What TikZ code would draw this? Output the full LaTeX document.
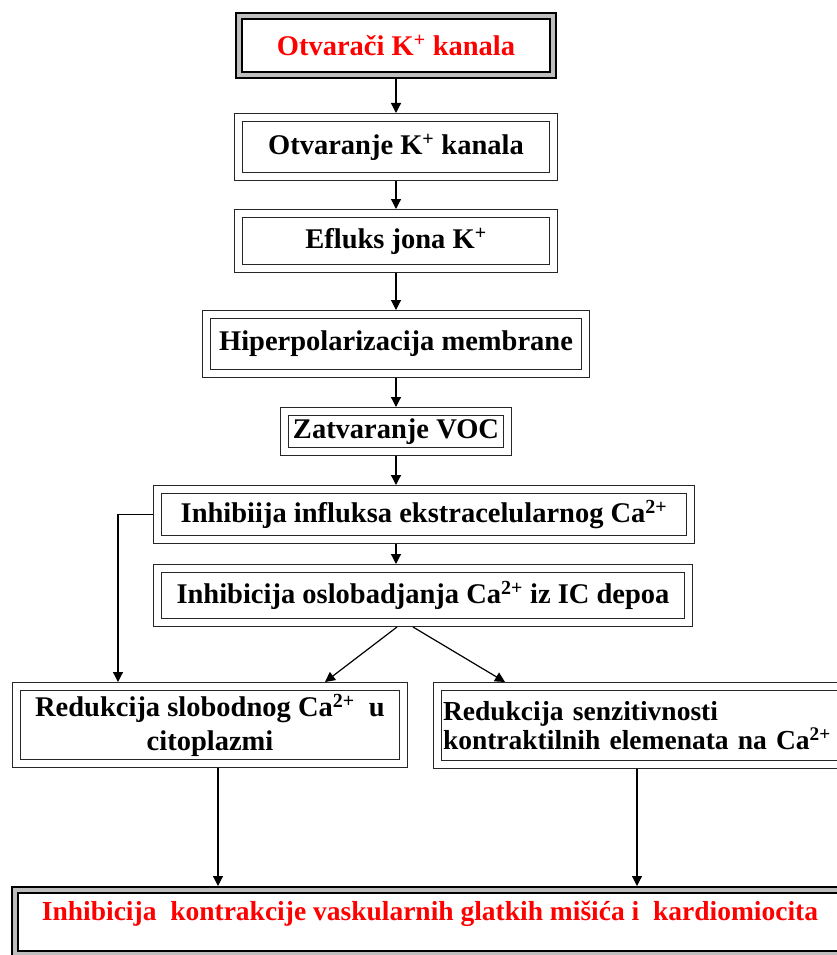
\documentclass[tikz,border=0pt]{standalone}
\usepackage{fontspec}
\setmainfont{Liberation Serif}
\usetikzlibrary{arrows.meta,positioning,calc}
\definecolor{ringgray}{RGB}{190,190,190}
\definecolor{titlered}{RGB}{255,0,0}

\begin{document}
\begin{tikzpicture}[x=1pt, y=-1pt,
    every node/.style={font=\fontsize{28.5}{34}\selectfont\bfseries},
    stepbox/.style={draw=black!85, line width=1.3pt, double=white, double distance=6.4pt, fill=white, outer sep=4.5pt, inner sep=0pt, align=center},
    keybox/.style={draw=black, line width=1.6pt, double=ringgray, double distance=4.8pt, fill=white, outer sep=4pt, inner sep=0pt, text=titlered},
    link/.style={-{Triangle[width=10pt,length=10pt]}, line width=1.2pt}]
    \clip (0,0) rectangle (837,955);

    % Main chain
    \node[keybox, minimum width=314pt, minimum height=59pt] (b1) at (396,45.5) {Otvarači K\textsuperscript{+} kanala};
    \node[stepbox, minimum width=315pt, minimum height=59pt] (b2) at (396,147) {Otvaranje K\textsuperscript{+} kanala};
    \node[stepbox, minimum width=315pt, minimum height=55pt] (b3) at (396,241) {Efluks jona K\textsuperscript{+}};
    \node[stepbox, minimum width=379pt, minimum height=59pt] (b4) at (396,344) {Hiperpolarizacija membrane};
    \node[stepbox, minimum width=223pt, minimum height=40pt] (b5) at (396,431.5) {Zatvaranje VOC};
    \node[stepbox, minimum width=533pt, minimum height=50pt] (b6) at (424,514.5) {Inhibiija influksa ekstracelularnog Ca\textsuperscript{2+}};
    \node[stepbox, minimum width=531pt, minimum height=54pt] (b7) at (423,595.5) {Inhibicija oslobadjanja Ca\textsuperscript{2+} iz IC depoa};

    % Two effects
    \node[stepbox, minimum width=387pt, minimum height=77pt] (b8) at (210,725) {Redukcija slobodnog Ca\textsuperscript{2+}\ \ u\\citoplazmi};
    \node[stepbox, minimum width=404pt, minimum height=78pt, text width=393pt, inner xsep=5.5pt, align=left, font=\fontsize{27.5}{27}\selectfont\bfseries] (b9) at (639.5,725.5) {Redukcija senzitivnosti\\kontraktilnih elemenata na Ca\textsuperscript{2+}};

    % Outcome
    \node[keybox, minimum width=830pt, minimum height=64pt, text depth=22pt, font=\fontsize{27.5}{32}\selectfont\bfseries] (b10) at (430,922) {Inhibicija\ \ kontrakcije vaskularnih glatkih mišića i\ \ kardiomiocita};

    % Arrows
    \draw[link] (b1) -- (b2);
    \draw[link] (b2) -- (b3);
    \draw[link] (b3) -- (b4);
    \draw[link] (b4) -- (b5);
    \draw[link] (b5) -- (b5 |- b6.north);
    \draw[link] (b5 |- b6.south) -- (b5 |- b7.north);
    \draw[link] (b6.west) -| ([xshift=-92pt]b8.north);
    \draw[link] ([xshift=-26pt]b7.south) -- ([xshift=115pt]b8.north);
    \draw[link] ([xshift=-10pt]b7.south) -- ([xshift=-134.5pt]b9.north);
    \draw[link] ([xshift=8pt]b8.south) -- ([xshift=8pt]b8.south |- b10.north);
    \draw[link] ([xshift=-2.5pt]b9.south) -- ([xshift=-2.5pt]b9.south |- b10.north);
\end{tikzpicture}
\end{document}
